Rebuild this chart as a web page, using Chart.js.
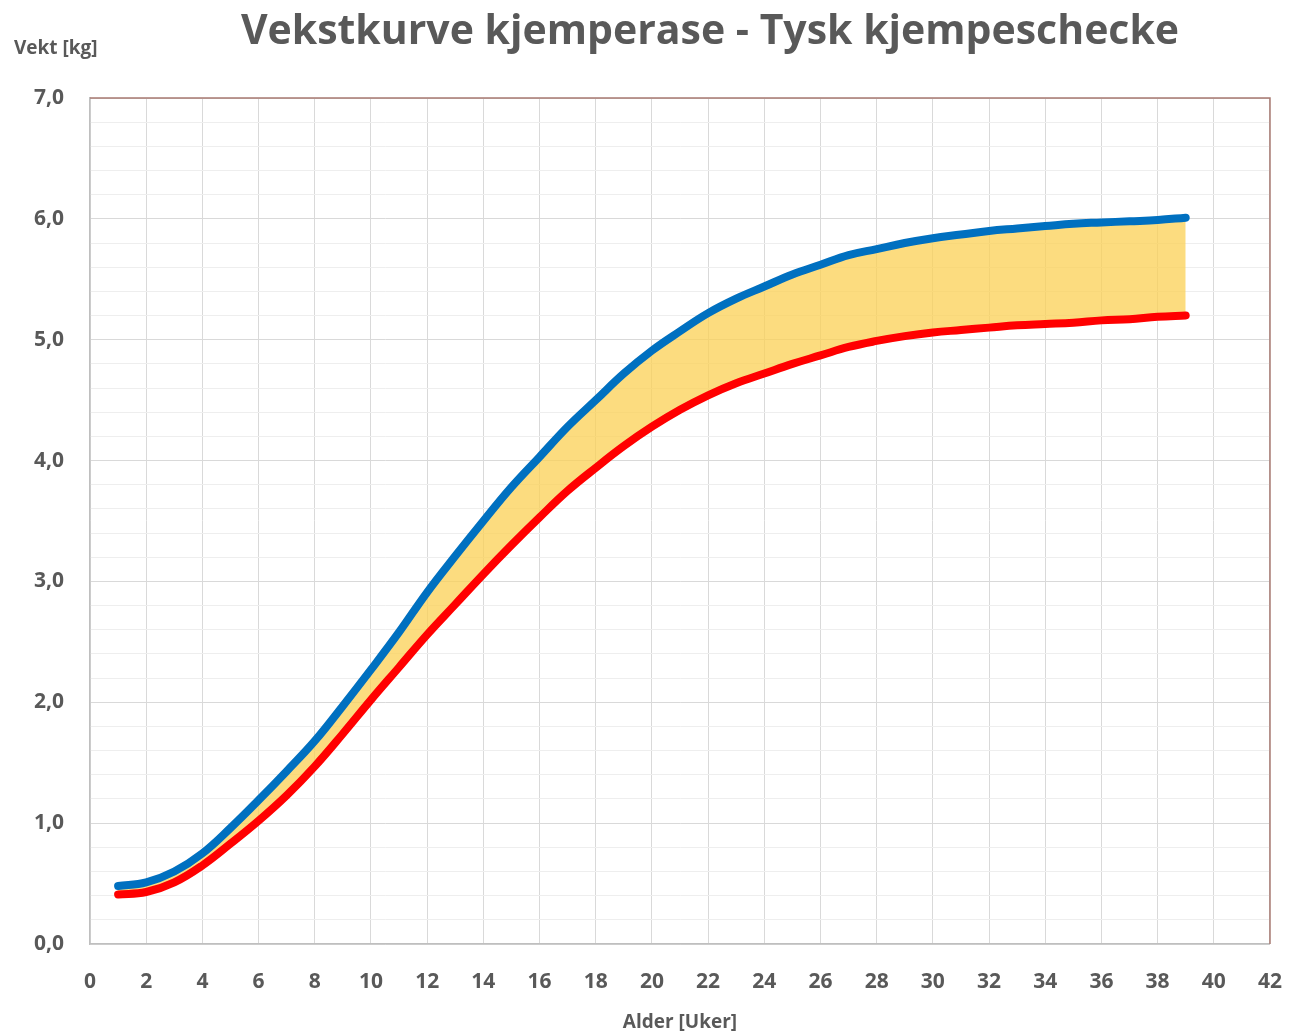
<!DOCTYPE html>
<html>
<head>
<meta charset="utf-8">
<script src="https://cdn.jsdelivr.net/npm/chart.js@4/dist/chart.umd.min.js"></script>
<style>
  body { margin: 0; background: #fff; }
  #wrap { width: 1307px; height: 1036px; position: relative; }
</style>
</head>
<body>
<div id="wrap"><canvas id="vekstChart"></canvas></div>
<script>
// weeks 1..39
const weeks = [1, 2, 3, 4, 5, 6, 7, 8, 9, 10, 11, 12, 13, 14, 15, 16, 17, 18, 19, 20,
  21, 22, 23, 24, 25, 26, 27, 28, 29, 30, 31, 32, 33, 34, 35, 36, 37, 38, 39];

// upper curve (blue)
const maxWeight = [0.48, 0.51, 0.60, 0.75, 0.96, 1.19, 1.43, 1.68, 1.97, 2.27,
  2.58, 2.91, 3.21, 3.50, 3.78, 4.03, 4.28, 4.50, 4.72, 4.91,
  5.07, 5.22, 5.34, 5.44, 5.54, 5.62, 5.70, 5.75, 5.80, 5.84,
  5.87, 5.90, 5.92, 5.94, 5.96, 5.97, 5.98, 5.99, 6.01];

// lower curve (red)
const minWeight = [0.41, 0.43, 0.51, 0.65, 0.83, 1.02, 1.23, 1.47, 1.74, 2.02,
  2.29, 2.56, 2.81, 3.06, 3.30, 3.53, 3.75, 3.94, 4.12, 4.28,
  4.42, 4.54, 4.64, 4.72, 4.80, 4.87, 4.94, 4.99, 5.03, 5.06,
  5.08, 5.10, 5.12, 5.13, 5.14, 5.16, 5.17, 5.19, 5.20];

const titleText = "Vekstkurve kjemperase - Tysk kjempeschecke";
const yTitle = "Vekt [kg]";
const xTitle = "Alder [Uker]";

const textColor = "#595959";
const fontFamily = "'Open Sans', 'Liberation Sans', sans-serif";

const blueData = weeks.map((w, i) => ({ x: w, y: maxWeight[i] }));
const redData = weeks.map((w, i) => ({ x: w, y: minWeight[i] }));

// title, y-axis caption and top/right frame
const extras = {
  id: "extras",
  afterDraw(chart) {
    const ctx = chart.ctx;
    const a = chart.chartArea;
    ctx.save();
    ctx.strokeStyle = "#a87a72";
    ctx.lineWidth = 1.5;
    ctx.beginPath();
    ctx.moveTo(a.left, a.top);
    ctx.lineTo(a.right, a.top);
    ctx.lineTo(a.right, a.bottom);
    ctx.stroke();

    ctx.fillStyle = textColor;
    ctx.textBaseline = "middle";
    ctx.textAlign = "center";
    ctx.font = "bold 41px " + fontFamily;
    ctx.fillText(titleText, 710, 32);

    ctx.textAlign = "left";
    ctx.font = "bold 19px " + fontFamily;
    ctx.fillText(yTitle, 14, 49);
    ctx.restore();
  }
};

new Chart("vekstChart", {
  type: "line",
  data: {
    datasets: [
      {
        label: "Maks",
        data: blueData,
        borderColor: "#0070c0",
        borderWidth: 8,
        borderCapStyle: "round",
        borderJoinStyle: "round",
        pointRadius: 0,
        tension: 0.4,
        fill: "+1",
        backgroundColor: "rgba(251, 208, 84, 0.75)",
      },
      {
        label: "Min",
        data: redData,
        borderColor: "#ff0000",
        borderWidth: 8,
        borderCapStyle: "round",
        borderJoinStyle: "round",
        pointRadius: 0,
        tension: 0.4,
        fill: false,
      },
    ],
  },
  options: {
    responsive: true,
    maintainAspectRatio: false,
    animation: false,
    layout: { padding: { top: 98, right: 27, bottom: 0, left: 0 } },
    plugins: {
      legend: { display: false },
      tooltip: { enabled: false },
      filler: { drawTime: "beforeDatasetsDraw" },
    },
    scales: {
      x: {
        type: "linear",
        min: 0,
        max: 42,
        afterFit: (s) => { s.height = 92; },
        ticks: {
          stepSize: 2,
          padding: 25,
          autoSkip: false,
          color: textColor,
          font: { family: fontFamily, size: 21, weight: "bold" },
        },
        grid: { color: "#d9d9d9", drawTicks: false },
        border: { color: "#bfbfbf", width: 1.5 },
        title: {
          display: true,
          text: xTitle,
          color: textColor,
          font: { family: fontFamily, size: 19, weight: "bold" },
          padding: { top: 0, bottom: 2 },
        },
      },
      y: {
        min: 0,
        max: 7,
        afterFit: (s) => { s.width = 90; },
        ticks: {
          stepSize: 0.2,
          padding: 26,
          autoSkip: false,
          color: textColor,
          font: { family: fontFamily, size: 21, weight: "bold" },
          callback: (v) => Math.abs(v - Math.round(v)) < 1e-6 ? v.toFixed(1).replace(".", ",") : "",
        },
        grid: {
          drawTicks: false,
          color: (c) => {
            const v = c.tick ? c.tick.value : 0;
            return Math.abs(v - Math.round(v)) < 1e-6 ? "#d9d9d9" : "#eeeeee";
          },
        },
        border: { color: "#bfbfbf", width: 1.5 },
      },
    },
  },
  plugins: [extras],
});
</script>
</body>
</html>
